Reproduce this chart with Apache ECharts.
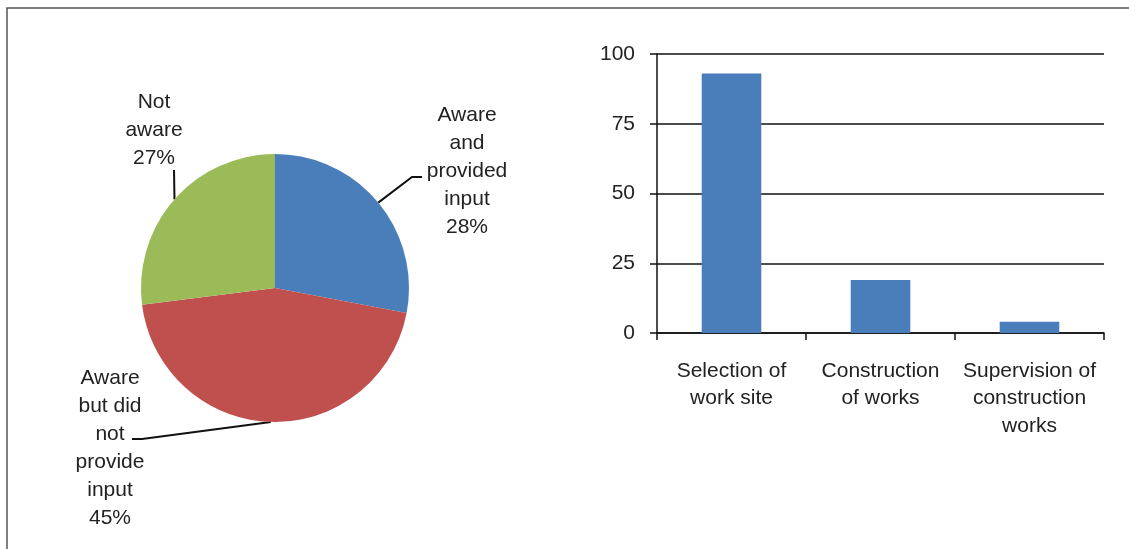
<!DOCTYPE html>
<html>
<head>
<meta charset="utf-8">
<script src="https://cdn.jsdelivr.net/npm/echarts@6/dist/echarts.min.js"></script>
<style>
  html, body { margin: 0; padding: 0; background: #fff; }
  #chart { width: 1129px; height: 549px; }
</style>
</head>
<body>
<div id="chart"></div>
<script>
  // pie data (percent)
  const pieNames = ['Aware\nand\nprovided\ninput', 'Aware\nbut did\nnot\nprovide\ninput', 'Not\naware'];
  const pieValues = [28, 45, 27];
  const pieColors = ['#4a7ebb', '#c0504d', '#9bbb59'];

  // bar data
  const barCategories = ['Selection of\nwork site', 'Construction\nof works', 'Supervision of\nconstruction\nworks'];
  const barValues = [93, 19, 4];
  const yTicks = [0, 25, 50, 75, 100];

  const pieCenter = [275, 288];
  const pieRadius = 134;

  // label placement: label centre and leader elbow/end, per slice
  const labelSpots = [
    { x: 467, y: 171, elbow: [412, 177], end: [422, 177] },
    { x: 110, y: 448, elbow: [142, 439], end: [132, 439] },
    { x: 154, y: 130, elbow: [174, 170], end: [174, 170] }
  ];

  const textColor = '#222';
  const font = 'Liberation Sans, Arial, sans-serif';
  const axisColor = '#111';

  let chart = echarts.init(document.getElementById('chart'));
  chart.setOption({
    backgroundColor: '#fff',
    animation: false,
    graphic: [{
      type: 'rect',
      shape: { x: 7, y: 8, width: 1400, height: 800 },
      style: { fill: 'none', stroke: '#555', lineWidth: 1.5 },
      silent: true
    }],
    grid: { left: 657, right: 25, top: 54, bottom: 216 },
    xAxis: {
      type: 'category',
      data: barCategories,
      axisLine: { lineStyle: { color: axisColor, width: 1.5 } },
      axisTick: { show: true, length: 7, lineStyle: { color: axisColor, width: 1.5 } },
      axisLabel: {
        interval: 0, margin: 24, color: textColor, fontSize: 21,
        lineHeight: 27.5, fontFamily: font
      }
    },
    yAxis: {
      type: 'value',
      min: 0, max: 100, interval: 25,
      axisLine: { show: true, lineStyle: { color: axisColor, width: 1.5 } },
      axisTick: { show: true, length: 7, lineStyle: { color: axisColor, width: 1.5 } },
      splitLine: { lineStyle: { color: axisColor, width: 1.5 } },
      axisLabel: {
        margin: 22, color: textColor, fontSize: 21, fontFamily: font,
        formatter: v => yTicks.indexOf(v) >= 0 ? String(v) : ''
      }
    },
    series: [
      {
        type: 'pie',
        center: pieCenter,
        radius: pieRadius,
        startAngle: 90,
        clockwise: true,
        data: pieNames.map((n, i) => ({ name: n, value: pieValues[i], itemStyle: { color: pieColors[i] } })),
        label: {
          show: true, position: 'outside',
          formatter: p => p.name + '\n' + p.value + '%',
          color: textColor, fontSize: 21, lineHeight: 28, fontFamily: font
        },
        labelLine: { show: true, lineStyle: { color: '#111', width: 2 } },
        labelLayout: function (params) {
          const s = labelSpots[params.dataIndex];
          const start = params.labelLinePoints ? params.labelLinePoints[0] : s.elbow;
          return {
            x: s.x, y: s.y, align: 'center', verticalAlign: 'middle',
            labelLinePoints: [start, s.elbow, s.end]
          };
        },
        emphasis: { disabled: true }
      },
      {
        type: 'bar',
        data: barValues,
        barWidth: '40%',
        itemStyle: { color: '#4a7ebb' }
      }
    ]
  });
</script>
</body>
</html>
